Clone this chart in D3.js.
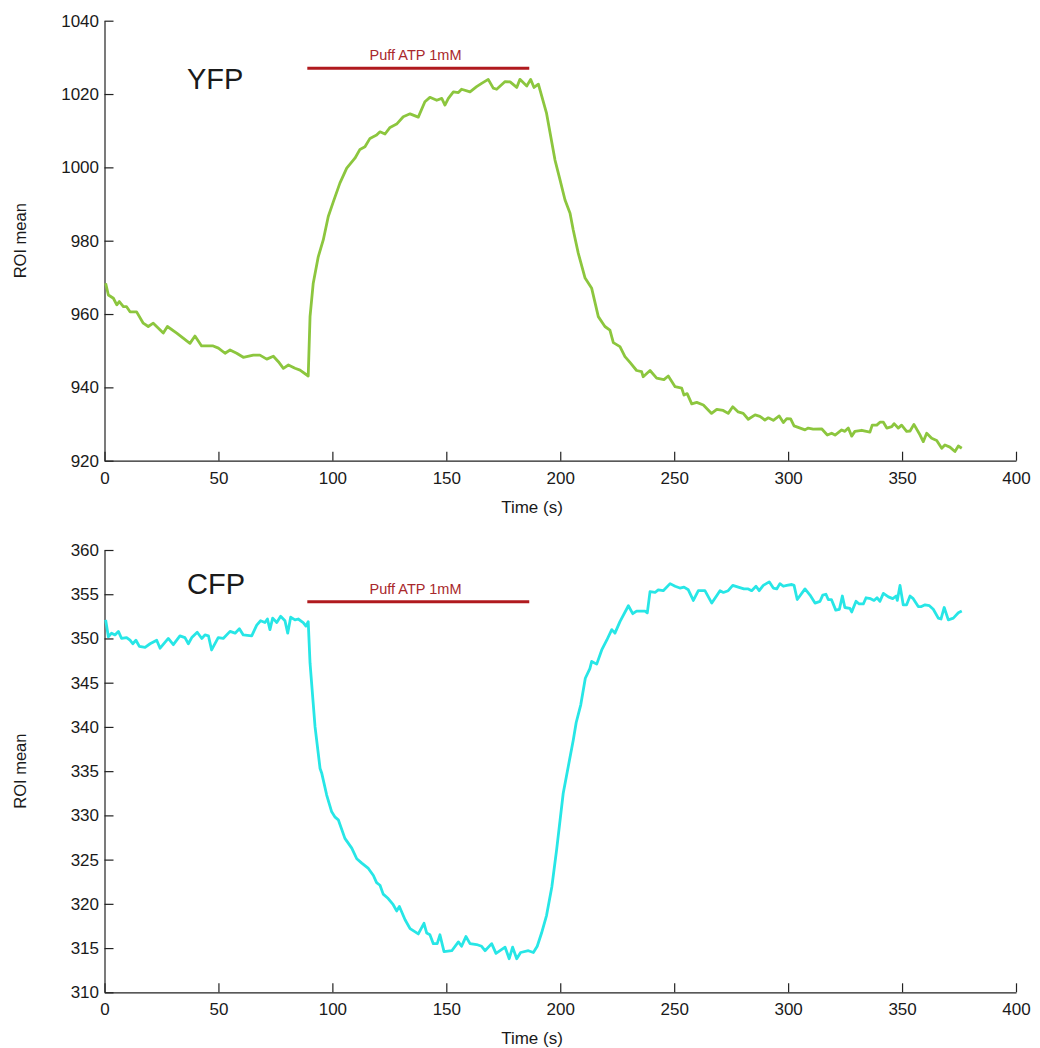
<!DOCTYPE html>
<html>
<head>
<meta charset="utf-8">
<script src="https://cdn.jsdelivr.net/npm/d3@7"></script>
<style>
  body { margin: 0; background: #fff; }
  svg text { font-family: "Liberation Sans", Arial, sans-serif; fill: #1a1a1a; }
</style>
</head>
<body>
<div id="graph"></div>
<script>
var yfpTime = [0.5, 1.7, 3.9, 5.4, 6.5, 8.3, 9.7, 11.2, 14.1, 17.0, 19.2, 21.4, 25.8, 27.6, 31.7, 37.5, 39.7, 42.6, 47.7, 50.0,
  52.9, 55.1, 58.0, 60.9, 65.3, 68.2, 71.2, 74.1, 76.3, 78.5, 80.7, 83.6, 85.8, 89.4, 90.2, 91.6, 93.8, 96.0, 98.2, 100.4,
  103.3, 106.3, 109.9, 112.1, 114.3, 116.5, 119.4, 120.9, 123.1, 125.3, 128.2, 131.1, 134.1, 137.7, 140.6, 142.8, 145.8, 148.0, 149.4, 150.9,
  153.1, 155.3, 156.7, 160.4, 163.3, 165.5, 168.4, 170.6, 172.1, 175.8, 178.0, 180.9, 182.3, 185.3, 187.0, 188.5, 190.4, 194.0, 197.7, 199.9,
  202.1, 204.3, 205.7, 207.9, 210.9, 213.8, 216.7, 219.6, 221.8, 223.3, 226.2, 228.4, 230.6, 233.5, 235.7, 236.4, 239.4, 242.3, 245.5, 247.4,
  250.4, 253.3, 254.3, 255.7, 257.7, 259.9, 262.8, 266.4, 268.7, 271.5, 273.7, 275.7, 278.1, 280.3, 282.5, 285.5, 287.6, 289.8, 291.3, 293.5,
  296.1, 297.9, 299.4, 301.1, 302.6, 307.4, 308.8, 311.0, 314.7, 317.2, 319.1, 320.6, 323.5, 324.9, 326.4, 327.9, 329.3, 332.3, 335.9, 336.9,
  338.9, 340.3, 341.8, 343.3, 345.5, 346.5, 348.3, 349.8, 352.0, 353.5, 355.2, 357.9, 359.3, 360.8, 363.0, 365.2, 367.4, 368.8, 371.0, 373.2,
  374.7, 376.2];
var yfpValue = [968.4, 965.2, 964.3, 962.5, 963.4, 962.0, 962.0, 960.6, 960.6, 957.5, 956.6, 957.5, 954.8, 956.6, 954.8, 952.0, 954.0, 951.3, 951.3, 950.7,
  949.3, 950.2, 949.3, 948.2, 948.8, 948.8, 947.7, 948.5, 947.0, 945.2, 946.1, 945.2, 944.7, 943.1, 959.3, 968.4, 975.6, 980.2, 986.6, 990.6,
  995.7, 999.8, 1002.5, 1004.9, 1005.6, 1007.9, 1008.8, 1009.7, 1009.1, 1010.9, 1011.8, 1013.8, 1014.6, 1013.7, 1017.9, 1019.1, 1018.3, 1018.8, 1017.0, 1018.8,
  1020.6, 1020.4, 1021.3, 1020.6, 1022.0, 1022.9, 1024.0, 1021.6, 1021.3, 1023.4, 1023.3, 1021.8, 1024.0, 1022.2, 1024.0, 1021.8, 1022.7, 1014.7, 1002.0, 996.6,
  991.1, 987.5, 982.9, 976.6, 969.8, 967.0, 959.3, 956.6, 955.6, 952.2, 951.1, 948.4, 946.8, 944.6, 944.3, 942.9, 944.6, 942.5, 942.1, 943.1,
  940.2, 939.8, 937.9, 938.3, 935.5, 935.9, 935.2, 932.9, 934.0, 933.7, 932.9, 934.7, 933.3, 932.9, 931.3, 932.5, 932.1, 931.1, 931.7, 931.0,
  932.2, 930.4, 931.5, 931.4, 929.5, 928.4, 928.9, 928.6, 928.7, 927.0, 927.5, 927.0, 928.4, 928.0, 928.9, 926.7, 928.0, 928.3, 927.8, 929.7,
  929.7, 930.5, 930.5, 928.9, 929.3, 930.1, 928.9, 929.7, 928.0, 928.1, 929.9, 927.0, 925.2, 927.5, 926.1, 925.5, 923.4, 924.3, 923.7, 922.5,
  924.0, 923.4];

var cfpTime = [0.5, 1.7, 3.1, 4.6, 6.1, 7.5, 9.7, 11.2, 12.4, 13.8, 15.3, 17.8, 20.0, 22.9, 24.4, 28.0, 30.2, 33.1, 35.3, 36.8,
  38.3, 40.7, 42.7, 44.1, 45.6, 47.0, 49.9, 52.1, 55.1, 57.3, 59.2, 60.9, 64.6, 66.8, 68.5, 70.4, 71.5, 72.6, 73.8, 75.6,
  77.3, 79.2, 80.4, 81.7, 83.6, 85.0, 87.2, 88.4, 89.4, 90.2, 92.4, 93.1, 94.6, 95.3, 97.5, 99.7, 101.2, 102.6, 105.5, 108.5,
  110.7, 112.9, 115.8, 118.0, 119.4, 120.9, 122.3, 124.5, 126.7, 128.2, 129.4, 131.9, 134.1, 137.7, 140.2, 141.4, 142.8, 144.3, 146.0, 147.2,
  149.0, 152.4, 155.3, 156.7, 158.6, 160.4, 163.3, 165.5, 167.0, 169.9, 171.8, 175.8, 177.6, 179.1, 180.9, 182.6, 186.0, 188.2, 189.9, 191.8,
  194.0, 196.3, 198.4, 201.3, 203.5, 205.7, 207.0, 209.0, 211.0, 213.0, 213.8, 216.0, 218.2, 220.4, 222.6, 224.0, 226.2, 229.9, 231.8, 233.5,
  237.2, 238.2, 239.4, 241.6, 243.0, 245.2, 248.2, 250.4, 252.5, 254.3, 256.2, 258.4, 260.6, 263.5, 266.5, 270.1, 271.6, 273.7, 275.7, 278.1,
  280.6, 282.5, 284.0, 285.9, 287.3, 289.1, 291.7, 293.5, 295.0, 296.4, 297.9, 299.4, 301.6, 302.6, 304.0, 307.4, 309.6, 311.8, 314.0, 315.2,
  316.6, 317.6, 319.0, 320.9, 322.5, 323.8, 324.9, 327.1, 327.9, 329.8, 331.2, 333.0, 334.2, 336.2, 337.7, 339.0, 340.3, 341.8, 344.0, 345.9,
  347.4, 347.9, 349.1, 350.5, 352.0, 353.5, 354.9, 357.1, 358.5, 360.1, 362.0, 363.7, 365.9, 367.1, 368.5, 370.3, 372.5, 374.7, 376.2];
var cfpValue = [352.1, 350.2, 350.6, 350.4, 350.8, 350.0, 350.1, 349.8, 349.4, 349.8, 349.1, 349.0, 349.4, 349.8, 348.9, 350.0, 349.3, 350.3, 350.1, 349.4,
  350.1, 350.7, 350.0, 350.4, 350.3, 348.7, 350.1, 350.0, 350.8, 350.6, 351.1, 350.4, 350.3, 351.5, 352.0, 351.8, 352.2, 351.0, 352.3, 351.8,
  352.5, 352.0, 350.6, 352.4, 352.1, 352.2, 351.8, 351.4, 351.9, 347.2, 340.0, 338.5, 335.3, 334.8, 332.3, 330.4, 329.8, 329.5, 327.4, 326.3,
  325.1, 324.6, 324.0, 323.2, 322.4, 322.1, 321.1, 320.6, 319.9, 319.2, 319.7, 318.2, 317.2, 316.6, 317.8, 316.7, 316.5, 315.5, 315.5, 316.5,
  314.6, 314.7, 315.7, 315.2, 316.3, 315.5, 315.4, 315.2, 314.7, 315.5, 314.4, 315.1, 313.8, 315.1, 313.8, 314.5, 314.7, 314.5, 315.2, 316.7,
  318.7, 321.9, 326.1, 332.5, 335.5, 338.5, 340.5, 342.5, 345.5, 346.6, 347.4, 347.1, 348.7, 349.8, 351.0, 350.6, 351.9, 353.7, 352.8, 353.1,
  353.1, 352.9, 355.3, 355.2, 355.5, 355.4, 356.2, 355.9, 355.7, 355.8, 355.5, 354.3, 355.4, 355.4, 354.0, 355.4, 355.2, 355.4, 356.0, 355.8,
  355.6, 355.6, 355.4, 355.9, 355.4, 356.0, 356.4, 355.7, 355.6, 356.2, 355.9, 356.0, 356.1, 356.0, 354.4, 355.6, 354.9, 354.0, 354.2, 354.9,
  355.0, 354.4, 354.4, 353.2, 353.3, 354.8, 353.5, 353.4, 353.0, 354.2, 353.9, 353.9, 354.6, 354.5, 354.3, 354.6, 354.2, 355.1, 354.7, 354.5,
  354.8, 354.3, 356.0, 353.8, 353.8, 354.8, 354.5, 353.6, 353.6, 353.8, 353.7, 353.3, 352.3, 352.2, 353.5, 352.1, 352.3, 352.9, 353.1];

var xTicks = [0, 50, 100, 150, 200, 250, 300, 350, 400];
var yfpTicks = [920, 940, 960, 980, 1000, 1020, 1040];
var cfpTicks = [310, 315, 320, 325, 330, 335, 340, 345, 350, 355, 360];

// puff window (s) and the level the bar is drawn at in each panel
var puffWindow = [89, 186.4];
var puffLevel = { yfp: 1027, cfp: 354.15 };

var svg = d3.select('#graph')
  .append('svg')
  .attr('width', 1040)
  .attr('height', 1048);

var left = 104.5, right = 1016;

function drawPanel(opts) {
  var xScale = d3.scaleLinear().domain([0, 400]).range([left, right]);
  var yScale = d3.scaleLinear().domain(opts.domain).range([opts.bottom, opts.top]);
  var g = svg.append('g');

  // x axis with inward ticks
  var xAxis = g.append('g')
    .attr('transform', 'translate(0,' + opts.bottom + ')')
    .call(d3.axisBottom(xScale).tickValues(xTicks).tickFormat(d3.format('d'))
      .tickSizeInner(-9).tickSizeOuter(0).tickPadding(11));
  // y axis with inward ticks
  var yAxis = g.append('g')
    .attr('transform', 'translate(' + left + ',0)')
    .call(d3.axisLeft(yScale).tickValues(opts.ticks).tickFormat(d3.format('d'))
      .tickSizeInner(-9).tickSizeOuter(0).tickPadding(5.5));
  [xAxis, yAxis].forEach(function(a) {
    a.selectAll('path, line').attr('stroke', '#222').attr('stroke-width', 1.2);
    a.selectAll('text').attr('font-size', '17px').attr('font-family', '"Liberation Sans", Arial, sans-serif').attr('fill', '#1a1a1a');
  });

  // axis titles
  g.append('text')
    .attr('x', 532)
    .attr('y', opts.bottom + 52)
    .attr('text-anchor', 'middle')
    .attr('font-size', '17px')
    .text('Time (s)');
  g.append('text')
    .attr('transform', 'translate(26,' + ((opts.top + opts.bottom) / 2) + ') rotate(-90)')
    .attr('text-anchor', 'middle')
    .attr('font-size', '16.5px')
    .text('ROI mean');

  // trace
  var pts = opts.time.map(function(t, i) { return [t, opts.value[i]]; });
  g.append('path')
    .datum(pts)
    .attr('fill', 'none')
    .attr('stroke', opts.color)
    .attr('stroke-width', 2.8)
    .attr('stroke-linejoin', 'round')
    .attr('d', d3.line()
      .x(function(d) { return xScale(d[0]); })
      .y(function(d) { return yScale(d[1]); }));

  // puff bar + label
  var by = yScale(opts.puff);
  g.append('line')
    .attr('x1', xScale(puffWindow[0]))
    .attr('x2', xScale(puffWindow[1]))
    .attr('y1', by)
    .attr('y2', by)
    .attr('stroke', '#b01a1e')
    .attr('stroke-width', 3);
  g.append('text')
    .attr('x', xScale(136.5))
    .attr('y', by - 8)
    .attr('text-anchor', 'middle')
    .attr('font-size', '14.5px')
    .style('fill', '#a8282c')
    .text('Puff ATP 1mM');

  // channel name
  g.append('text')
    .attr('x', xScale(36.2))
    .attr('y', opts.top + opts.nameOffset)
    .attr('font-size', '29px')
    .text(opts.name);
}

drawPanel({
  time: yfpTime, value: yfpValue, domain: [920, 1040], ticks: yfpTicks,
  top: 20.7, bottom: 460.7, color: '#8cc63e', puff: puffLevel.yfp,
  name: 'YFP', nameOffset: 68.6
});
drawPanel({
  time: cfpTime, value: cfpValue, domain: [310, 360], ticks: cfpTicks,
  top: 550, bottom: 992.3, color: '#27e6e6', puff: puffLevel.cfp,
  name: 'CFP', nameOffset: 44
});
</script>
</body>
</html>
